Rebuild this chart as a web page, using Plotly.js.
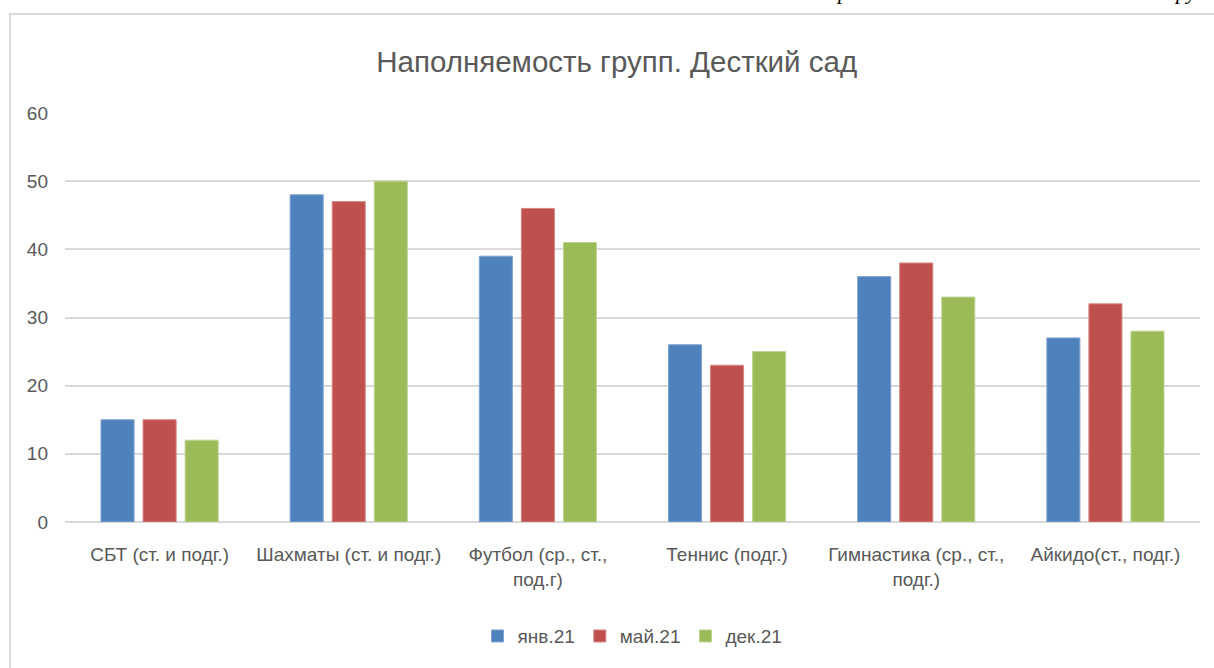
<!DOCTYPE html>
<html><head><meta charset="utf-8">
<script src="https://cdn.plot.ly/plotly-3.0.1.min.js"></script>
<style>
html,body{margin:0;padding:0;background:#fff;overflow:hidden}
#wrap{position:relative;width:1214px;height:668px}
#chart{position:absolute;left:0;top:0;width:1214px;height:668px}
#frame{position:absolute;left:9px;top:13px;width:1220px;height:680px;border:2px solid #D9D9D9;pointer-events:none;box-sizing:border-box}
.cut{position:absolute;font-family:"Liberation Serif",serif;font-style:italic;font-size:22px;color:#000;top:-19px;line-height:22px}
</style></head>
<body><div id="wrap"><div id="chart"></div><div id="frame"></div>
<div class="cut" style="left:838px">р</div><div class="cut" style="left:1176px">ру</div></div>
<script>
var categories = ["СБТ (ст. и подг.)", "Шахматы (ст. и подг.)", "Футбол (ср., ст.,<br>под.г)", "Теннис (подг.)", "Гимнастика (ср., ст.,<br>подг.)", "Айкидо(ст., подг.)"];
var seriesNames = ["янв.21", "май.21", "дек.21"];
var jan21 = [15, 48, 39, 26, 36, 27];
var may21 = [15, 47, 46, 23, 38, 32];
var dec21 = [12, 50, 41, 25, 33, 28];
var colors = ["#4F81BD", "#C0504D", "#9BBB59"];
var lineColors = ["#7FA3D1", "#D88583", "#BCD494"];
var values = [jan21, may21, dec21];
var font = "Liberation Sans, sans-serif";
var traces = values.map(function(v, i){
  return {type:"bar", x:categories, y:v, name:seriesNames[i],
    marker:{color:colors[i], line:{color:lineColors[i], width:1}}};
});
var layout = {
  width:1214, height:668,
  paper_bgcolor:"#fff", plot_bgcolor:"#fff",
  margin:{l:65, r:14, t:113, b:146},
  barmode:"group", bargap:0.333, bargroupgap:0.214,
  title:{text:"Наполняемость групп. Десткий сад", x:0.508, xanchor:"center", y:0.907, yanchor:"middle",
    font:{family:font, size:29.5, color:"#595959"}},
  font:{family:font, color:"#595959", size:19},
  xaxis:{showgrid:false, showline:false, zeroline:false, ticks:"", ticklabelstandoff:19,
    tickfont:{family:font, size:19, color:"#595959"}},
  yaxis:{range:[0,60], dtick:10, showgrid:true, gridcolor:"#D9D9D9", gridwidth:2,
    zeroline:true, zerolinecolor:"#D9D9D9", zerolinewidth:2, showline:false, ticks:"",
    ticklabelstandoff:16, tickfont:{family:font, size:19, color:"#595959"}},
  legend:{orientation:"h", x:0.5, xanchor:"center", y:-0.279, yanchor:"middle",
    font:{family:font, size:19, color:"#595959"}, itemwidth:30, traceorder:"normal"},
  showlegend:true
};
Plotly.newPlot("chart", traces, layout, {displayModeBar:false, staticPlot:true});
</script></body></html>
